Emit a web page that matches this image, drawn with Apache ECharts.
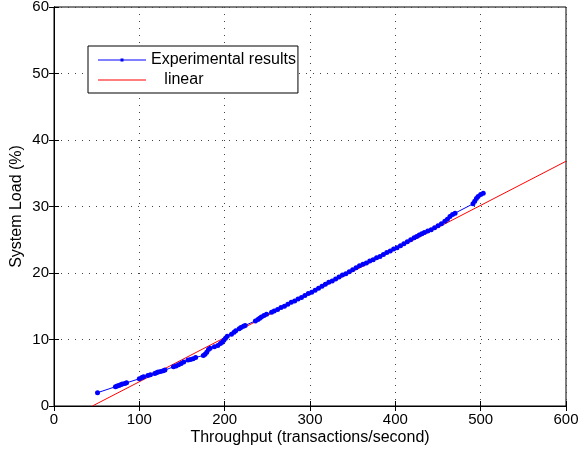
<!DOCTYPE html>
<html>
<head>
<meta charset="utf-8">
<script src="https://cdn.jsdelivr.net/npm/echarts@6/dist/echarts.min.js"></script>
<style>
  html, body { margin: 0; padding: 0; background: #fff; }
  #main { width: 581px; height: 455px; }
</style>
</head>
<body>
<div id="main"></div>
<script>
// measured throughput (transactions/second)
var expX = [51, 72, 74, 76, 78, 80, 83, 85, 100, 103, 105, 110, 113,
    118, 120, 122, 125, 128, 130, 140, 143, 146, 149, 152, 157, 160, 163, 166,
    175, 177, 179, 181, 183, 188, 192, 195, 197, 199, 201, 203, 208, 211, 213,
    217, 219, 222, 224, 236, 239, 241, 243, 246, 249, 255, 258, 262, 266, 270,
    274, 278, 282, 286, 290, 294, 298, 302, 306, 310, 314, 318, 322, 326, 330,
    334, 338, 342, 346, 350, 354, 358, 362, 366, 370, 374, 378, 382, 386, 390,
    394, 398, 402, 406, 410, 414, 418, 422, 425, 428, 431, 434, 438, 442, 446,
    450, 454, 458, 461, 464, 467, 470, 491, 493, 495, 497, 500, 503];
// measured system load (%)
var expY = [2.0, 2.9, 3.0, 3.1, 3.2, 3.3, 3.4, 3.5, 4.1, 4.3, 4.4, 4.6, 4.7,
    4.9, 5.0, 5.1, 5.2, 5.3, 5.4, 5.9, 6.0, 6.2, 6.4, 6.6, 6.9, 7.0, 7.1, 7.3,
    7.6, 7.8, 8.1, 8.5, 8.7, 8.9, 9.1, 9.4, 9.6, 9.9, 10.2, 10.5, 10.8, 11.1, 11.3,
    11.6, 11.8, 12.0, 12.1, 12.8, 13.0, 13.2, 13.4, 13.6, 13.8, 14.1, 14.3, 14.5, 14.8, 15.0,
    15.3, 15.6, 15.8, 16.1, 16.3, 16.6, 16.9, 17.1, 17.4, 17.7, 18.0, 18.3, 18.6, 18.8, 19.1,
    19.4, 19.7, 19.9, 20.2, 20.5, 20.8, 21.1, 21.3, 21.5, 21.8, 22.0, 22.3, 22.5, 22.8, 23.1,
    23.3, 23.6, 23.8, 24.1, 24.4, 24.7, 25.0, 25.3, 25.5, 25.7, 25.9, 26.1, 26.3, 26.5, 26.8,
    27.1, 27.4, 27.8, 28.1, 28.5, 28.8, 29.0, 30.4, 30.8, 31.2, 31.5, 31.8, 32.0];
// linear fit end points
var fitX = [45, 600];
var fitY = [0, 36.8];

function pairs(xs, ys) {
    return xs.map(function (x, i) { return [x, ys[i]]; });
}

var font = 'Liberation Sans, Arial, sans-serif';
var dotted = { show: true, lineStyle: { color: '#444', type: [1, 6], width: 1 } };
var black = { color: '#000' };

var myChart = echarts.init(document.getElementById('main'));
var option = {
    animation: false,
    textStyle: { fontFamily: font, color: '#000' },
    grid: {
        left: 54, right: 15, top: 7, bottom: 49,
        outerBoundsMode: 'none',
        show: true, borderColor: '#000', borderWidth: 1
    },
    legend: {
        orient: 'vertical',
        left: 88,
        top: 46,
        padding: [6, 2, 5, 10],
        itemWidth: 48,
        itemHeight: 14,
        itemGap: 4,
        borderColor: '#000',
        borderWidth: 1,
        backgroundColor: '#fff',
        textStyle: { fontFamily: font, fontSize: 16, color: '#000' },
        formatter: function (name) {
            return name === 'linear' ? '   linear' : name;
        },
        data: [
            // line with a small dot marker
            { name: 'Experimental results', icon: 'path://M0,1.5h48v1h-48z M22.5,0.5h3v3h-3z' },
            { name: 'linear', icon: 'path://M0,0h48v1h-48z' }
        ]
    },
    xAxis: [
        {
            type: 'value', min: 0, max: 600, interval: 100,
            name: 'Throughput (transactions/second)',
            nameLocation: 'middle', nameGap: 24, nameMoveOverlap: false,
            nameTextStyle: { fontSize: 16, color: '#000' },
            axisLine: { show: true, onZero: false, lineStyle: black },
            axisTick: { show: true, inside: true, length: 5, lineStyle: black },
            axisLabel: { fontSize: 15, color: '#000', margin: 6 },
            splitLine: dotted
        },
        {
            type: 'value', min: 0, max: 600, interval: 100, position: 'top',
            axisLine: { show: true, lineStyle: black },
            axisTick: { show: true, inside: true, length: 5, lineStyle: black },
            axisLabel: { show: false },
            splitLine: { show: false }
        }
    ],
    yAxis: [
        {
            type: 'value', min: 0, max: 60, interval: 10,
            name: 'System Load (%)',
            nameLocation: 'middle', nameGap: 29, nameMoveOverlap: false,
            nameTextStyle: { fontSize: 16, color: '#000' },
            axisLine: { show: true, onZero: false, lineStyle: black },
            axisTick: { show: true, inside: true, length: 5, lineStyle: black },
            axisLabel: { fontSize: 15, color: '#000', margin: 5 },
            splitLine: dotted
        },
        {
            type: 'value', min: 0, max: 60, interval: 10, position: 'right',
            axisLine: { show: true, lineStyle: black },
            axisTick: { show: true, inside: true, length: 5, lineStyle: black },
            axisLabel: { show: false },
            splitLine: { show: false }
        }
    ],
    series: [
        {
            name: 'Experimental results',
            type: 'line',
            data: pairs(expX, expY),
            symbol: 'circle',
            symbolSize: 5,
            showAllSymbol: true,
            itemStyle: { color: '#0000ff' },
            lineStyle: { color: '#0000ff', width: 1 }
        },
        {
            name: 'linear',
            type: 'line',
            data: pairs(fitX, fitY),
            symbol: 'none',
            itemStyle: { color: '#ff0000' },
            lineStyle: { color: '#ff0000', width: 1 }
        }
    ]
};
myChart.setOption(option);
</script>
</body>
</html>
